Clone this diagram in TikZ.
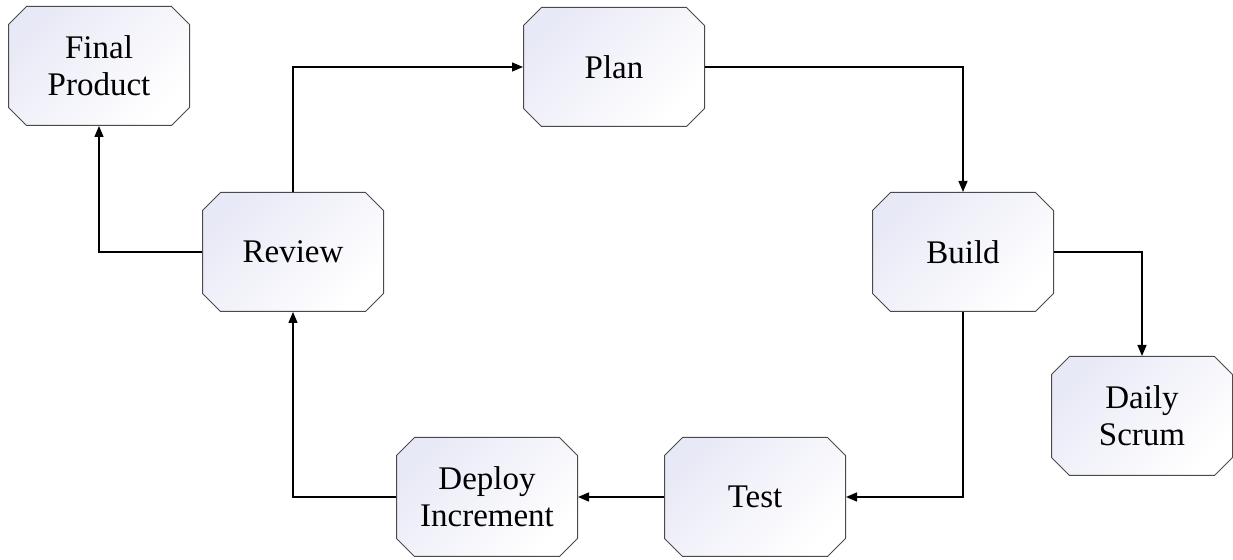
\documentclass[tikz,border=0pt]{standalone}
\usepackage{fontspec}
\setmainfont{Liberation Serif}
\usetikzlibrary{shapes.misc,arrows.meta}
\definecolor{boxedge}{HTML}{4A4A4A}
\definecolor{boxtint}{HTML}{E8E9F6}
\tikzset{
  stage/.style={chamfered rectangle, chamfered rectangle xsep=9pt,
    chamfered rectangle ysep=9pt, draw=boxedge, line width=1pt,
    minimum width=181pt, minimum height=119pt, inner sep=0pt,
    shading=axis, top color=boxtint, bottom color=white, shading angle=45,
    align=center, font=\fontsize{33}{37}\selectfont},
  flow/.style={draw=black, line width=1.4pt, -{Triangle[length=11pt,width=9pt]}}
}
\begin{document}
\begin{tikzpicture}[x=1pt,y=1pt]
\useasboundingbox (0,0) rectangle (1233,559);
\node[stage] (fp)     at (99,493)   {Final\\Product};
\node[stage] (plan)   at (614,492)  {Plan};
\node[stage] (review) at (293,307)  {Review};
\node[stage] (build)  at (963,307)  {Build};
\node[stage] (daily)  at (1142,143) {Daily\\Scrum};
\node[stage] (deploy) at (487,62)   {Deploy\\Increment};
\node[stage] (test)   at (755,62)   {Test};
% sprint cycle
\draw[flow] (review.north) |- (plan.west);
\draw[flow] (plan.east) -| (build.north);
\draw[flow] (build.south) |- (test.east);
\draw[flow] (test.west) -- (deploy.east);
\draw[flow] (deploy.west) -| (review.south);
% side outputs
\draw[flow] (review.west) -| (fp.south);
\draw[flow] (build.east) -| (daily.north);
\end{tikzpicture}
\end{document}
